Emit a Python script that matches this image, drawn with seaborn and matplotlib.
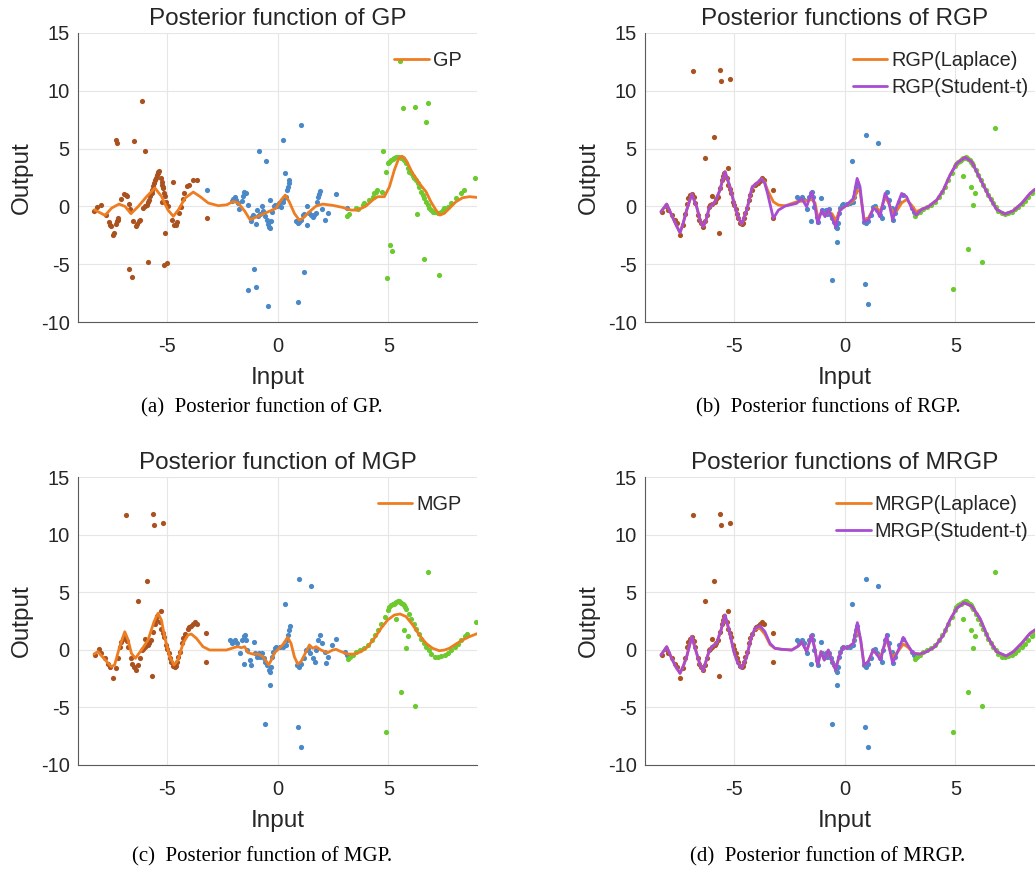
"""Posterior functions of GP / RGP / MGP / MRGP on a three-cluster toy set."""

import matplotlib

matplotlib.use("Agg")
import matplotlib.pyplot as plt
import seaborn as sns

BROWN = "#AA521F"
BLUE = "#4A88C7"
GREEN = "#6CC92E"
ORANGE = "#EE7D22"
PURPLE = "#A84CD4"

# ---- panel (a) data -------------------------------------------------------
a_brown_x = [-8.26, -8.16, -7.97, -7.75, -7.6, -7.56, -7.53, -7.42, -7.39, -7.29,
             -7.24, -7.21, -7.18, -7.3, -7.26, -7.08, -6.92, -6.85, -6.77, -6.7,
             -6.65, -6.7, -6.58, -6.53, -6.49, -6.38, -6.32, -6.26, -6.2, -6.11,
             -6.05, -5.98, -5.9, -5.83, -5.78, -5.74, -5.68, -5.65, -5.6, -5.56,
             -5.53, -5.5, -5.44, -5.41, -5.38, -5.33, -5.96, -5.83, -5.26, -5.22,
             -5.2, -5.17, -5.15, -5.11, -5.08, -5.03, -4.95, -5.23, -5.09, -5.12,
             -4.97, -4.74, -4.67, -4.59, -4.52, -4.7, -4.43, -4.35, -4.26, -4.2,
             -4.08, -3.99, -3.8, -3.62, -3.2]
a_brown_y = [-0.43, -0.06, 0.14, -0.78, -1.38, -1.58, -1.73, -2.45, -2.3, -1.53,
             -1.3, -1.15, -1.04, 5.76, 5.48, 0.66, 1.07, 1.0, 0.86, 0.2,
             -0.23, -5.42, -6.14, -1.3, 5.62, -1.73, -1.5, -1.3, -1.21, 9.08,
             -0.14, 0.0, 0.14, 0.35, 0.58, 0.86, 1.15, 1.45, 1.73, 2.02,
             2.3, 2.45, 2.74, 2.85, 2.97, 3.03, 4.81, -4.84, 2.45, 2.1,
             1.87, 1.7, 1.59, 1.15, 0.86, 0.35, 0.0, 0.35, -2.3, -5.04,
             -4.9, -1.15, -1.58, -1.58, -1.38, 2.1, -0.58, -0.09, 0.66, 1.15,
             1.79, 1.87, 2.3, 2.3, -1.0]

a_blue_x = [-3.18, -2.07, -2.0, -1.92, -1.87, -1.8, -1.72, -1.59, -1.55, -1.5,
            -1.44, -1.35, -1.2, -1.17, -1.09, -0.98, -0.94, -0.86, -0.79, -0.71,
            -0.64, -0.56, -0.49, -0.44, -0.38, -0.32, -0.29, -0.23, -0.17, -0.11,
            -0.04, -0.34, -0.83, -0.53, -1.06, -1.35, -0.95, -0.44, 0.01, 0.08,
            0.16, 0.23, 0.31, 0.38, 0.43, 0.47, 0.5, 0.53, 0.35, 0.23,
            1.06, 0.83, 0.91, 0.98, 1.06, 1.14, 1.21, 1.32, 1.32, 1.44,
            1.51, 1.59, 1.66, 1.74, 1.8, 1.83, 1.86, 1.92, 2.01, 2.16,
            2.26, 2.64, 3.14, 1.21, 0.93]
a_blue_y = [1.44, 0.43, 0.63, 0.81, 0.52, 0.29, -0.23, 0.43, 0.86, 1.24,
            1.15, 0.09, -1.3, -0.95, -0.78, -1.53, -0.29, -0.86, -0.63, 0.0,
            -0.43, -0.86, -1.15, -1.5, -1.79, -1.9, -1.3, -0.52, 0.0, 0.14,
            0.0, 0.58, 4.81, 3.95, -5.39, -7.26, -7.0, -8.65, 0.12, 0.26,
            -0.03, 0.4, 0.75, 0.84, 1.41, 1.7, 1.99, 2.28, 2.91, 5.73,
            7.03, -1.24, -1.41, -1.33, -1.18, -0.75, -0.66, 0.03, -1.59, -0.61,
            -0.75, -0.89, -0.75, -0.61, 0.4, 0.84, 1.07, 1.3, -0.26, -1.18,
            -0.61, 1.04, -0.17, -5.65, -8.3]

a_green_x = [3.14, 3.24, 3.54, 3.62, 3.84, 3.89, 4.14, 4.29, 4.37, 4.44,
             4.49, 4.71, 4.74, 4.89, 4.97, 5.04, 5.12, 5.19, 5.27, 5.35,
             5.42, 5.5, 5.57, 5.65, 5.72, 5.8, 5.87, 5.95, 6.02, 6.1,
             6.17, 6.25, 6.32, 6.4, 6.48, 6.55, 6.63, 6.7, 6.78, 6.85,
             6.93, 7.0, 7.12, 7.23, 7.3, 7.38, 7.45, 7.53, 7.68, 7.83,
             8.05, 8.28, 8.43, 8.93, 5.65, 6.22, 6.78, 6.7, 5.53, 5.08,
             5.15, 4.94, 6.6, 7.29, 6.29]
a_green_y = [-0.81, -0.69, -0.17, -0.26, 0.12, 0.26, 0.55, 0.84, 1.12, 1.27,
             1.41, 1.27, 4.76, 3.0, 3.72, 3.86, 4.0, 4.06, 4.15, 4.24,
             4.29, 4.24, 4.21, 4.15, 4.0, 3.72, 3.29, 3.0, 2.85, 2.62,
             2.42, 2.28, 1.99, 1.7, 1.27, 0.98, 0.69, 0.4, 0.12, -0.17,
             -0.32, -0.52, -0.46, -0.55, -0.61, -0.46, -0.32, -0.17, -0.03, 0.26,
             0.69, 1.18, 1.41, 2.42, 8.47, 8.56, 8.96, 7.26, 12.6, -3.34,
             -3.83, -6.22, -4.55, -5.94, -0.66]

gp_x = [-8.26, -8.0, -7.78, -7.48, -7.15, -6.88, -6.61, -6.28, -5.9, -5.53,
        -5.23, -4.95, -4.7, -4.47, -4.17, -3.8, -3.5, -3.12, -2.67, -2.29,
        -1.99, -1.77, -1.47, -1.24, -1.0, -0.7, -0.4, -0.07, 0.16, 0.35,
        0.53, 0.76, 0.98, 1.14, 1.44, 1.74, 2.04, 2.49, 2.94, 3.32,
        3.62, 3.99, 4.29, 4.52, 4.82, 5.05, 5.27, 5.47, 5.62, 5.8,
        6.1, 6.4, 6.7, 6.92, 7.15, 7.33, 7.53, 7.75, 8.05, 8.35,
        8.66, 9.0]
gp_y = [-0.29, -0.55, -0.78, -0.14, 0.2, 0.0, -0.63, 0.0, 0.86, 1.59,
        0.86, -0.29, -0.86, -0.29, 0.72, 1.24, 0.86, 0.29, 0.06, 0.14,
        0.43, 0.29, -0.43, -1.15, -0.95, -0.7, -0.45, -0.17, 0.55, 0.98,
        0.4, -0.6, -1.18, -1.04, -0.46, 0.03, 0.2, 0.09, -0.09, -0.32,
        -0.32, 0.03, 0.55, 0.84, 0.84, 1.7, 3.14, 4.15, 4.35, 4.0,
        2.85, 1.99, 1.27, 0.4, -0.32, -0.75, -0.6, -0.17, 0.4, 0.75,
        0.84, 0.78]

# ---- panels (b)-(d) data ----------------------------------------------------
brown_x = [-8.25, -8.07, -7.95, -7.8, -7.65, -7.57, -7.42, -7.27, -7.2, -7.12,
           -7.05, -6.97, -6.86, -6.8, -6.74, -6.62, -6.55, -6.47, -6.37, -6.3,
           -6.22, -6.11, -6.05, -5.99, -5.84, -5.78, -5.72, -5.62, -5.51, -5.46,
           -5.42, -5.32, -5.24, -5.18, -5.12, -5.02, -4.97, -4.91, -4.85, -4.79,
           -4.7, -4.64, -4.58, -4.52, -4.47, -4.41, -4.31, -4.25, -4.19, -4.04,
           -3.97, -3.89, -3.8, -3.71, -3.62, -6.85, -5.63, -5.56, -5.17, -5.87,
           -6.28, -5.27, -5.96, -5.66, -3.21, -3.21]
brown_y = [-0.46, 0.03, -0.3, -0.75, -1.2, -1.47, -2.48, -1.61, -0.7, 0.2,
           0.7, 0.98, 1.07, 0.8, 0.26, -0.75, -1.2, -1.47, -1.76, -1.3,
           -0.75, -0.03, 0.1, 0.2, 0.4, 0.6, 0.84, 1.56, 2.28, 2.6,
           2.91, 2.42, 1.84, 1.5, 1.12, 0.4, 0.1, -0.26, -0.7, -1.04,
           -1.4, -1.53, -1.4, -1.04, -0.6, -0.17, 0.55, 1.0, 1.41, 1.84,
           1.95, 2.05, 2.2, 2.42, 2.28, 11.7, 11.8, 10.81, 11.04, 5.97,
           4.21, 3.34, 0.92, -2.28, 1.43, -1.03]

blue_x = [-2.16, -2.05, -1.93, -1.83, -1.71, -1.59, -1.53, -1.48, -1.44, -1.36,
          -1.51, -1.26, -1.21, -1.08, -1.0, -0.92, -0.85, -0.77, -0.7, -0.62,
          -0.55, -0.47, -0.4, -0.35, -0.31, -0.25, -0.19, -0.13, -0.05, -0.32,
          -0.55, 0.1, 0.25, 0.37, 0.43, 0.47, 0.52, 0.55, 0.36, 0.97,
          1.53, 0.88, 0.96, 1.08, 1.18, 1.3, 1.38, 1.48, 1.6, 1.68,
          1.75, 1.83, 1.9, 2.02, 2.13, 2.17, 2.28, 2.47, 2.65, 3.03,
          3.14, 0.92, 1.08]
blue_y = [0.84, 0.6, 0.84, 0.55, -0.26, 0.84, 1.18, 1.27, 0.84, -0.03,
          -1.24, -0.89, -1.33, 0.69, -0.32, -0.61, -0.32, -0.66, -0.26, -0.75,
          -1.04, -1.33, -1.76, -1.9, -1.47, -0.61, -0.17, 0.12, 0.2, -3.08,
          -6.4, 0.2, 0.26, 0.4, 0.84, 1.27, 1.7, 2.05, 3.95, 6.17,
          5.5, -1.33, -1.47, -1.24, -0.75, -0.03, 0.03, -0.32, -0.75, -1.04,
          -0.03, 0.84, 1.27, 0.55, -0.17, -1.18, -0.61, 0.4, 0.98, -0.17,
          -0.46, -6.74, -8.47]

green_x = [3.18, 3.29, 3.41, 3.56, 3.74, 3.89, 4.08, 4.26, 4.38, 4.53,
           4.68, 4.83, 4.98, 5.05, 5.13, 5.2, 5.24, 5.3, 5.36, 5.42,
           5.48, 5.52, 5.58, 5.64, 5.71, 5.76, 5.81, 5.92, 6.04, 6.14,
           6.26, 6.37, 6.49, 6.6, 6.71, 6.82, 6.94, 7.09, 7.24, 7.39,
           7.54, 7.69, 7.84, 7.99, 8.14, 8.29, 8.44, 8.56, 8.95, 6.79,
           5.33, 5.7, 5.89, 5.81, 5.56, 6.2, 4.89]
green_y = [-0.81, -0.61, -0.46, -0.23, -0.03, 0.12, 0.4, 0.84, 1.27, 1.7,
           2.28, 2.85, 3.49, 3.7, 3.86, 3.95, 4.0, 4.1, 4.15, 4.2,
           4.24, 4.15, 4.06, 4.0, 3.86, 3.75, 3.57, 3.14, 2.71, 2.28,
           1.84, 1.41, 0.98, 0.6, 0.26, -0.03, -0.37, -0.61, -0.66, -0.55,
           -0.46, -0.26, -0.03, 0.2, 0.49, 0.84, 1.18, 1.35, 2.45, 6.74,
           2.65, 1.7, 1.18, 0.12, -3.66, -4.84, -7.15]

rgp_x = [-8.28, -8.02, -7.8, -7.6, -7.42, -7.27, -7.12, -6.89, -6.67, -6.5,
         -6.37, -6.25, -6.11, -5.84, -5.62, -5.5, -5.39, -5.17, -4.94, -4.78,
         -4.64, -4.41, -4.16, -3.95, -3.74, -3.6, -3.47, -3.21, -2.98, -2.68,
         -2.16, -1.93, -1.71, -1.48, -1.33, -1.21, -1.03, -0.88, -0.73, -0.58,
         -0.4, -0.2, 0.1, 0.4, 0.57, 0.7, 0.88, 1.08, 1.3, 1.45,
         1.6, 1.83, 1.98, 2.17, 2.35, 2.58, 2.8, 3.03, 3.23, 3.48,
         3.78, 4.16, 4.46, 4.76, 5.06, 5.44, 5.74, 6.11, 6.49, 6.86,
         7.24, 7.62, 7.99, 8.37, 8.59, 9.0]
rgp_student_y = [-0.46, 0.2, -0.75, -1.6, -2.28, -1.4, -0.32, 1.07, -0.03, -1.3,
                 -1.76, -1.2, -0.17, 0.4, 1.41, 2.3, 3.0, 1.7, -0.03, -1.0,
                 -1.53, -0.32, 1.7, 2.0, 2.42, 2.0, 1.12, -1.04, -0.32, 0.03,
                 0.26, 0.69, -0.03, 1.27, -0.03, -1.47, -0.32, -0.89, -0.26, -0.89,
                 -1.76, -0.32, 0.12, 0.69, 2.42, 1.7, -1.33, -1.18, -0.17, -0.32,
                 -0.89, 1.12, 0.55, -1.18, -0.03, 1.12, 0.84, -0.17, -0.75, -0.26,
                 -0.03, 0.55, 1.41, 2.71, 3.72, 4.24, 3.86, 2.42, 0.98, -0.26,
                 -0.66, -0.37, 0.26, 1.12, 1.47, 1.75]
rgp_laplace_y = [-0.46, 0.2, -0.75, -1.6, -2.28, -1.4, -0.32, 1.07, -0.03, -1.3,
                 -1.76, -1.2, -0.17, 0.4, 1.41, 2.3, 3.0, 1.7, -0.03, -1.0,
                 -1.53, -0.32, 1.7, 2.0, 2.42, 2.1, 1.4, 0.4, 0.12, 0.05,
                 0.4, 0.45, 0.5, 0.6, 0.3, -0.9, -0.6, -0.7, -0.5, -0.6,
                 -1.2, -0.3, 0.1, 0.5, 1.4, 1.3, -1.1, -1.0, -0.2, -0.1,
                 -0.55, 0.8, 0.35, -0.5, -0.4, 0.3, 0.6, 0.1, -0.45, -0.26,
                 -0.03, 0.55, 1.41, 2.71, 3.72, 4.24, 3.86, 2.42, 0.98, -0.26,
                 -0.66, -0.37, 0.26, 1.12, 1.47, 1.75]

mgp_x = [-8.28, -8.1, -7.8, -7.5, -7.35, -7.12, -6.89, -6.74, -6.59, -6.41,
         -6.14, -5.84, -5.57, -5.39, -5.24, -5.06, -4.86, -4.67, -4.49, -4.26,
         -4.04, -3.89, -3.66, -3.36, -3.06, -2.68, -2.31, -1.93, -1.78, -1.63,
         -1.48, -1.33, -1.11, -0.88, -0.65, -0.5, -0.4, -0.28, -0.13, 0.0,
         0.23, 0.46, 0.61, 0.76, 0.91, 1.06, 1.29, 1.44, 1.59, 1.74,
         1.96, 2.26, 2.49, 2.64, 2.87, 3.17, 3.47, 3.77, 4.07, 4.37,
         4.67, 4.97, 5.27, 5.53, 5.8, 6.1, 6.4, 6.7, 7.0, 7.3,
         7.53, 7.75, 8.05, 8.35, 8.66, 9.0]
mgp_y = [-0.37, -0.16, -0.83, -1.46, -1.32, 0.27, 1.57, 0.85, -0.31, -0.74,
         -0.02, 0.85, 2.44, 3.17, 2.59, 0.85, -0.6, -1.32, -0.89, 0.56,
         1.28, 1.37, 1.0, 0.27, -0.02, -0.02, -0.02, 0.21, 0.27, 0.18,
         0.27, -0.25, -0.37, -0.37, -0.6, -1.03, -1.32, -0.89, -0.25, -0.02,
         0.42, 1.08, 0.56, -0.6, -1.23, -1.03, -0.16, 0.42, 0.13, 0.27,
         -0.02, -0.25, -0.02, 0.04, -0.16, -0.37, -0.37, -0.16, 0.27, 1.0,
         1.86, 2.59, 3.02, 3.11, 2.88, 2.16, 1.28, 0.56, 0.13, -0.08,
         -0.02, 0.13, 0.5, 0.85, 1.14, 1.4]

mrgp_x = [-8.28, -8.02, -7.8, -7.6, -7.42, -7.27, -7.12, -6.89, -6.67, -6.5,
          -6.37, -6.25, -6.14, -5.99, -5.77, -5.57, -5.39, -5.21, -4.97, -4.8,
          -4.64, -4.41, -4.22, -4.04, -3.81, -3.59, -3.36, -3.14, -2.83, -2.38,
          -2.08, -1.93, -1.71, -1.48, -1.33, -1.21, -1.06, -0.91, -0.73, -0.58,
          -0.4, -0.25, -0.05, 0.1, 0.4, 0.58, 0.73, 0.88, 1.07, 1.3,
          1.45, 1.63, 1.9, 2.17, 2.43, 2.65, 2.88, 3.1, 3.4, 3.71,
          4.08, 4.46, 4.76, 5.06, 5.39, 5.74, 6.11, 6.49, 6.86, 7.29,
          7.62, 7.99, 8.37, 8.59, 9.0]
mrgp_student_y = [-0.45, 0.27, -0.74, -1.5, -2.04, -1.4, -0.6, 1.14, -0.31, -1.4,
                  -1.81, -1.0, -0.31, 0.27, 0.56, 1.72, 3.02, 1.72, -0.31, -1.2,
                  -1.6, -0.6, 1.0, 1.86, 2.07, 1.57, 0.56, 0.13, 0.04, -0.02,
                  0.33, 0.71, -0.16, 1.28, -0.02, -1.32, -0.16, -0.89, -0.02, -0.89,
                  -1.75, -0.6, 0.27, 0.13, 0.56, 2.36, 0.85, -1.32, -1.03, -0.02,
                  -0.37, -0.89, 1.28, -1.17, -0.02, 1.08, 0.33, -0.31, -0.37, -0.16,
                  0.27, 1.28, 2.59, 3.6, 4.09, 3.8, 2.73, 1.0, -0.16, -0.54,
                  -0.16, 0.56, 1.43, 1.72, 2.0]
mrgp_laplace_y = [-0.45, 0.27, -0.74, -1.5, -2.04, -1.4, -0.6, 1.14, -0.31, -1.4,
                  -1.81, -1.0, -0.31, 0.27, 0.56, 1.72, 3.02, 1.72, -0.31, -1.2,
                  -1.6, -0.6, 1.0, 1.8, 1.86, 1.35, 0.45, 0.13, 0.04, -0.02,
                  0.33, 0.71, -0.16, 1.28, -0.02, -1.32, -0.16, -0.89, -0.02, -0.89,
                  -1.75, -0.6, 0.27, 0.13, 0.56, 1.9, 0.85, -1.32, -1.03, -0.02,
                  -0.37, -0.6, 0.9, -0.7, -0.1, 0.5, 0.2, -0.3, -0.37, -0.16,
                  0.27, 1.28, 2.59, 3.6, 4.09, 3.8, 2.73, 1.0, -0.16, -0.54,
                  -0.16, 0.56, 1.43, 1.72, 2.0]

W, H = 1035, 875
TICK_FS = 14.5
LABEL_FS = 17.5
LEGEND_FS = 14.3


def _panel(axis, points, curves, title):
    for xs, ys, color in points:
        sns.scatterplot(x=xs, y=ys, color=color, s=14, linewidth=0,
                        ax=axis, zorder=2)
    for xs, ys, color, label in curves:
        sns.lineplot(x=xs, y=ys, color=color, linewidth=2.0, sort=False,
                     estimator=None, label=label, ax=axis, zorder=3)
    axis.set_xlim(-9, 9)
    axis.set_ylim(-10, 15)
    axis.set_xticks([-5, 0, 5])
    axis.set_yticks([-10, -5, 0, 5, 10, 15])
    axis.grid(True, color="#E6E6E6", linewidth=0.8)
    axis.set_axisbelow(True)
    for side in ("top", "right"):
        axis.spines[side].set_visible(False)
    for side in ("left", "bottom"):
        axis.spines[side].set_color("#5A5A5A")
        axis.spines[side].set_linewidth(0.8)
    axis.tick_params(direction="in", length=3, width=0.6, color="#5A5A5A",
                     labelsize=TICK_FS, labelcolor="#262626")
    axis.tick_params(axis="x", pad=11)
    axis.tick_params(axis="y", pad=6)
    axis.set_title(title, fontsize=LABEL_FS, pad=6)
    axis.set_xlabel("Input", fontsize=LABEL_FS, color="#262626", labelpad=8)
    axis.set_ylabel("Output", fontsize=LABEL_FS, color="#262626", labelpad=6)
    axis.legend(loc="upper right", bbox_to_anchor=(1.016, 1.012),
                frameon=False, fontsize=LEGEND_FS,
                handlelength=1.75, handletextpad=0.2, labelspacing=0.36,
                borderaxespad=0.7, borderpad=0.4)


sns.set_theme(style="white")
plt.rcParams["font.family"] = ["Liberation Sans", "DejaVu Sans"]
plt.rcParams["axes.unicode_minus"] = False

fig = plt.figure(figsize=(W / 100, H / 100), dpi=100)
left_a, left_b = 78 / W, 645 / W
width = 399 / W
ax_a = fig.add_axes([left_a, 1 - 322 / H, width, 289 / H])
ax_b = fig.add_axes([left_b, 1 - 322 / H, width, 289 / H])
ax_c = fig.add_axes([left_a, 1 - 765 / H, width, 288 / H])
ax_d = fig.add_axes([left_b, 1 - 765 / H, width, 288 / H])

shared = [(brown_x, brown_y, BROWN), (blue_x, blue_y, BLUE),
          (green_x, green_y, GREEN)]

_panel(ax_a, [(a_brown_x, a_brown_y, BROWN), (a_blue_x, a_blue_y, BLUE),
              (a_green_x, a_green_y, GREEN)],
       [(gp_x, gp_y, ORANGE, "GP")], "Posterior function of GP")
_panel(ax_b, shared,
       [(rgp_x, rgp_laplace_y, ORANGE, "RGP(Laplace)"),
        (rgp_x, rgp_student_y, PURPLE, "RGP(Student-t)")],
       "Posterior functions of RGP")
_panel(ax_c, shared, [(mgp_x, mgp_y, ORANGE, "MGP")],
       "Posterior function of MGP")
_panel(ax_d, shared,
       [(mrgp_x, mrgp_laplace_y, ORANGE, "MRGP(Laplace)"),
        (mrgp_x, mrgp_student_y, PURPLE, "MRGP(Student-t)")],
       "Posterior functions of MRGP")

captions = [
    (262, 408, "(a)  Posterior function of GP."),
    (828, 408, "(b)  Posterior functions of RGP."),
    (262, 857, "(c)  Posterior function of MGP."),
    (828, 857, "(d)  Posterior function of MRGP."),
]
for cx, cy, text in captions:
    fig.text(cx / W, 1 - cy / H, text, ha="center", va="center",
             fontsize=15, family=["Liberation Serif", "DejaVu Serif"],
             color="black")

fig.savefig("out.png", dpi=100)
